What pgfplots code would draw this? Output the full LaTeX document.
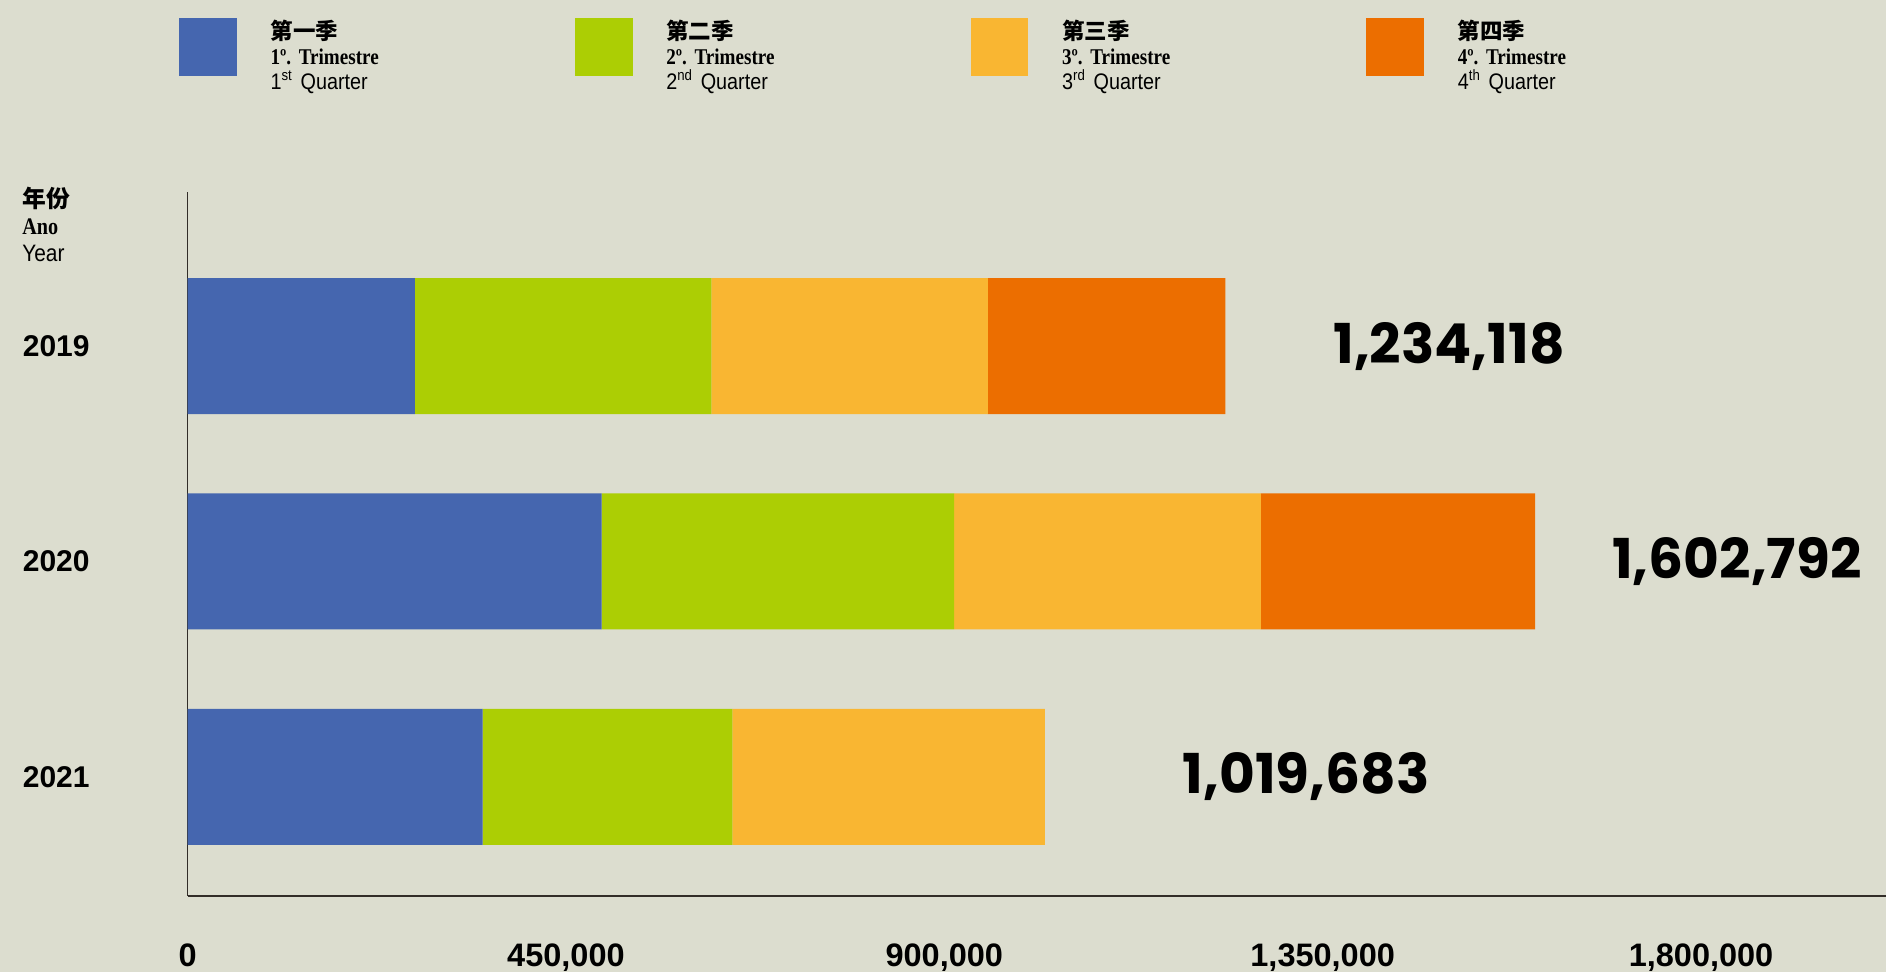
\documentclass[border=0pt]{standalone}
\usepackage{fontspec}
\usepackage{pgfplots}
\pgfplotsset{compat=1.18}
\setmainfont{Liberation Sans}
\newfontfamily\cjk{Noto Sans CJK SC}
\newfontfamily\serifc[FakeStretch=0.85]{Liberation Serif}
\newfontfamily\sansn[FakeStretch=0.88]{Liberation Sans}
\newfontfamily\pop{Poppins}
\definecolor{bg}{RGB}{220,221,207}
\definecolor{qone}{RGB}{69,102,175}
\definecolor{qtwo}{RGB}{172,206,4}
\definecolor{qthree}{RGB}{249,182,50}
\definecolor{qfour}{RGB}{236,110,0}
\definecolor{axc}{RGB}{50,45,40}
\frenchspacing
\begin{document}
\begin{tikzpicture}
\path[use as bounding box, fill=bg] (0,0) rectangle (754.4pt,388.8pt);
\begin{axis}[
 at={(75.04pt,30.4pt)}, anchor=south west,
 scale only axis, width=679.36pt, height=281.6pt,
 xbar stacked, bar width=54.4pt,
 xmin=0, xmax=2020000, ymin=-0.553, ymax=2.715,
 axis x line=bottom, axis y line=left,
 axis line style={-, draw=axc, line width=0.6pt},
 major tick length=0pt,
 scaled x ticks=false,
 xtick={0,450000,900000,1350000,1800000},
 xticklabels={0,{450,000},{900,000},{1,350,000},{1,800,000}},
 ytick={0,1,2}, yticklabels={2021,2020,2019},
 xticklabel style={font=\bfseries\fontsize{13}{13}\selectfont, anchor=base, inner sep=0pt, yshift=-28.2pt},
 yticklabel style={font=\bfseries\fontsize{12}{12}\selectfont, anchor=east, inner sep=0pt, xshift=-39pt},
 legend columns=4,
 legend style={at={(-0.005,1.2708)}, anchor=north west, draw=none, fill=none, inner sep=0pt, outer sep=0pt,
   nodes={text width=110pt, align=left, inner sep=0pt, font=\fontsize{9}{10.1}\selectfont},
   /tikz/every odd column/.style={column sep=13.5pt},
   /tikz/every even column/.style={column sep=11.7pt}},
 legend image code/.code={\path[fill=none, draw=none] (0pt,-17.8pt) rectangle (23.1pt,12pt); \fill[#1] (0pt,-17.8pt) rectangle (23.1pt,5.3pt);},
 legend cell align=left,
 clip=false,
]
\addplot[fill=qone, draw=none] coordinates {(270400,2) (492300,1) (350950,0)};
\addlegendentry{{\cjk\bfseries 第一季}\\{\serifc\bfseries 1º. Trimestre}\\{\sansn 1\textsuperscript{st} Quarter}}
\addplot[fill=qtwo, draw=none] coordinates {(352600,2) (419300,1) (297060,0)};
\addlegendentry{{\cjk\bfseries 第二季}\\{\serifc\bfseries 2º. Trimestre}\\{\sansn 2\textsuperscript{nd} Quarter}}
\addplot[fill=qthree, draw=none] coordinates {(328700,2) (364900,1) (371673,0)};
\addlegendentry{{\cjk\bfseries 第三季}\\{\serifc\bfseries 3º. Trimestre}\\{\sansn 3\textsuperscript{rd} Quarter}}
\addplot[fill=qfour, draw=none] coordinates {(282418,2) (326292,1)};
\addlegendentry{{\cjk\bfseries 第四季}\\{\serifc\bfseries 4º. Trimestre}\\{\sansn 4\textsuperscript{th} Quarter}}
\node[anchor=west, inner sep=0pt, font=\pop\bfseries\fontsize{22}{22}\selectfont] at (axis cs:1362300,2) {1,234,118};
\node[anchor=west, inner sep=0pt, font=\pop\bfseries\fontsize{22}{22}\selectfont] at (axis cs:1693800,1) {1,602,792};
\node[anchor=west, inner sep=0pt, font=\pop\bfseries\fontsize{22}{22}\selectfont] at (axis cs:1183200,0) {1,019,683};
\end{axis}
\node[anchor=north west, inner sep=0pt, align=left, font=\fontsize{9.5}{10.8}\selectfont] at (8.7pt,314pt) {{\cjk\bfseries 年份}\\{\serifc\bfseries Ano}\\{\sansn Year}};
\end{tikzpicture}
\end{document}
